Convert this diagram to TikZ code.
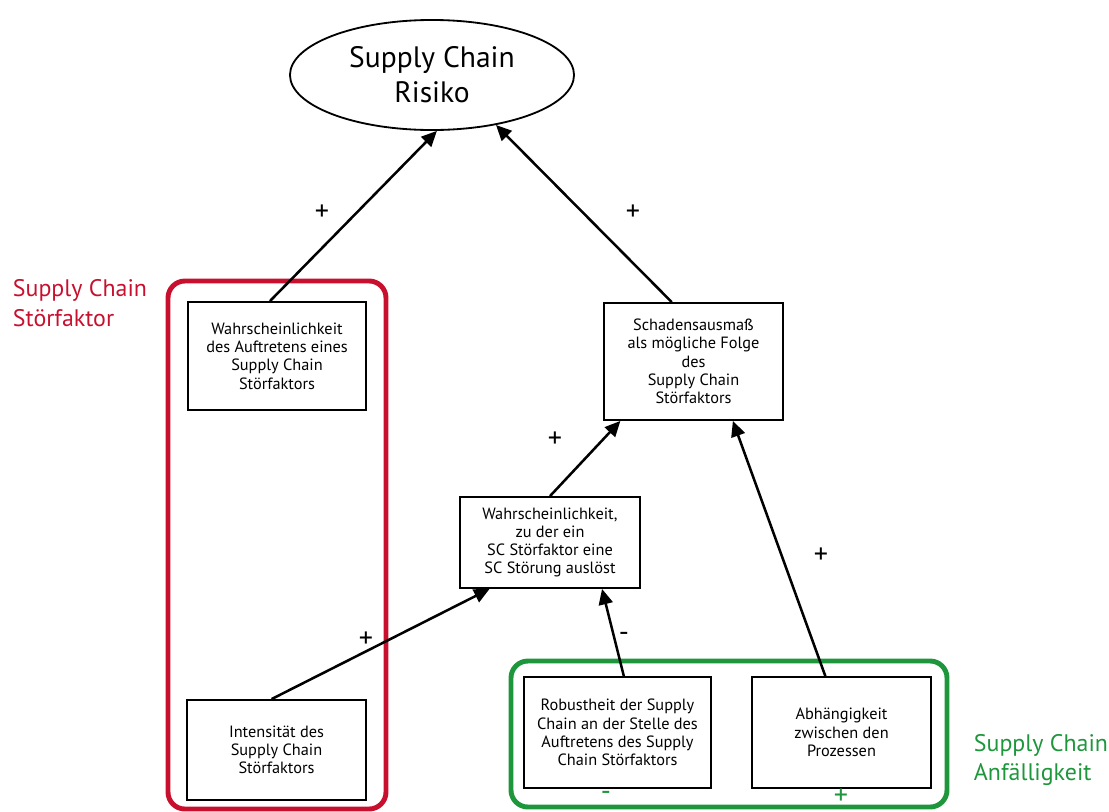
\documentclass[tikz,border=0pt]{standalone}
\usepackage{fontspec}
\setmainfont{PT Sans}
\usetikzlibrary{shapes.geometric,arrows.meta,positioning}
\definecolor{scred}{RGB}{200,16,46}
\definecolor{scgreen}{RGB}{30,150,60}

\tikzset{
  factor/.style={draw, line width=1.3pt, align=center, inner sep=2pt,
    font=\fontsize{11.6}{13}\selectfont},
  infl/.style={line width=1.8pt, -{Triangle[length=11pt,width=10pt]}},
  sign/.style={font=\fontsize{20}{21}\selectfont},
  group/.style={line width=3.5pt, rounded corners=12pt},
  grouplabel/.style={anchor=west, align=left, font=\fontsize{17}{21}\selectfont},
}

\begin{document}
\begin{tikzpicture}[x=0.025cm, y=-0.025cm]
  \useasboundingbox (0,0) rectangle (1109,811);

  % Ziel
  \node (risiko) [ellipse, draw, line width=1.3pt, minimum width=7.1cm, minimum height=2.75cm,
    align=center, font=\fontsize{21}{25}\selectfont] at (432,75) {Supply Chain\\Risiko};

  % Gruppen
  \draw[group, scred] (168,281) rectangle (386,809);
  \node (lblstoer) [grouplabel, text=scred] at (8,303) {Supply Chain\\Störfaktor};
  \draw[group, scgreen] (511,661) rectangle (947,807);
  \node (lblanf) [grouplabel, text=scgreen] at (969,760) {Supply Chain\\Anfälligkeit};

  % Faktoren
  \node (wahrsch) [factor, minimum width=4.45cm, minimum height=2.7cm] at (277,356)
    {Wahrscheinlichkeit\\des Auftretens eines\\Supply Chain\\Störfaktors};
  \node (intens) [factor, minimum width=4.475cm, minimum height=2.5cm] at (276.5,750)
    {Intensität des\\Supply Chain\\Störfaktors};
  \node (schaden) [factor, minimum width=4.475cm, minimum height=2.925cm] at (693.5,361.5)
    {Schadensausmaß\\als mögliche Folge\\des\\Supply Chain\\Störfaktors};
  \node (stoerung) [factor, minimum width=4.5cm, minimum height=2.275cm] at (550,542.5)
    {Wahrscheinlichkeit,\\zu der ein\\SC Störfaktor eine\\SC Störung auslöst};
  \node (robust) [factor, minimum width=4.675cm, minimum height=2.775cm] at (617.5,732.5)
    {Robustheit der Supply\\Chain an der Stelle des\\Auftretens des Supply\\Chain Störfaktors};
  \node (abh) [factor, minimum width=4.475cm, minimum height=2.775cm] at (841.5,732.5)
    {Abhängigkeit\\zwischen den\\Prozessen};

  % Wirkungen
  \draw[infl] ([xshift=-5]wahrsch.north) -- (risiko.-85);
  \draw[infl] ([xshift=-15.5]schaden.north) -- (risiko.-38);
  \draw[infl] (stoerung.north) -- ([xshift=-52]schaden.south);
  \draw[infl] ([xshift=-11.5]abh.north) -- ([xshift=28]schaden.south);
  \draw[infl] ([xshift=4.5]robust.north) -- ([xshift=37]stoerung.south);
  \draw[infl] ([xshift=-3.5]intens.north) -- ([xshift=-43]stoerung.south);

  % Vorzeichen
  \node (s1) [sign] at (322,213) {+};
  \node (s2) [sign] at (633,213) {+};
  \node (s3) [sign] at (555,440) {+};
  \node (s4) [sign] at (821,556) {+};
  \node (s5) [sign] at (366,640) {+};
  \node (s6) [sign] at (624,637) {-};
  \node (s7) [sign, text=scgreen] at (606,796) {-};
  \node (s8) [sign, text=scgreen] at (841,797) {+};
\end{tikzpicture}
\end{document}
